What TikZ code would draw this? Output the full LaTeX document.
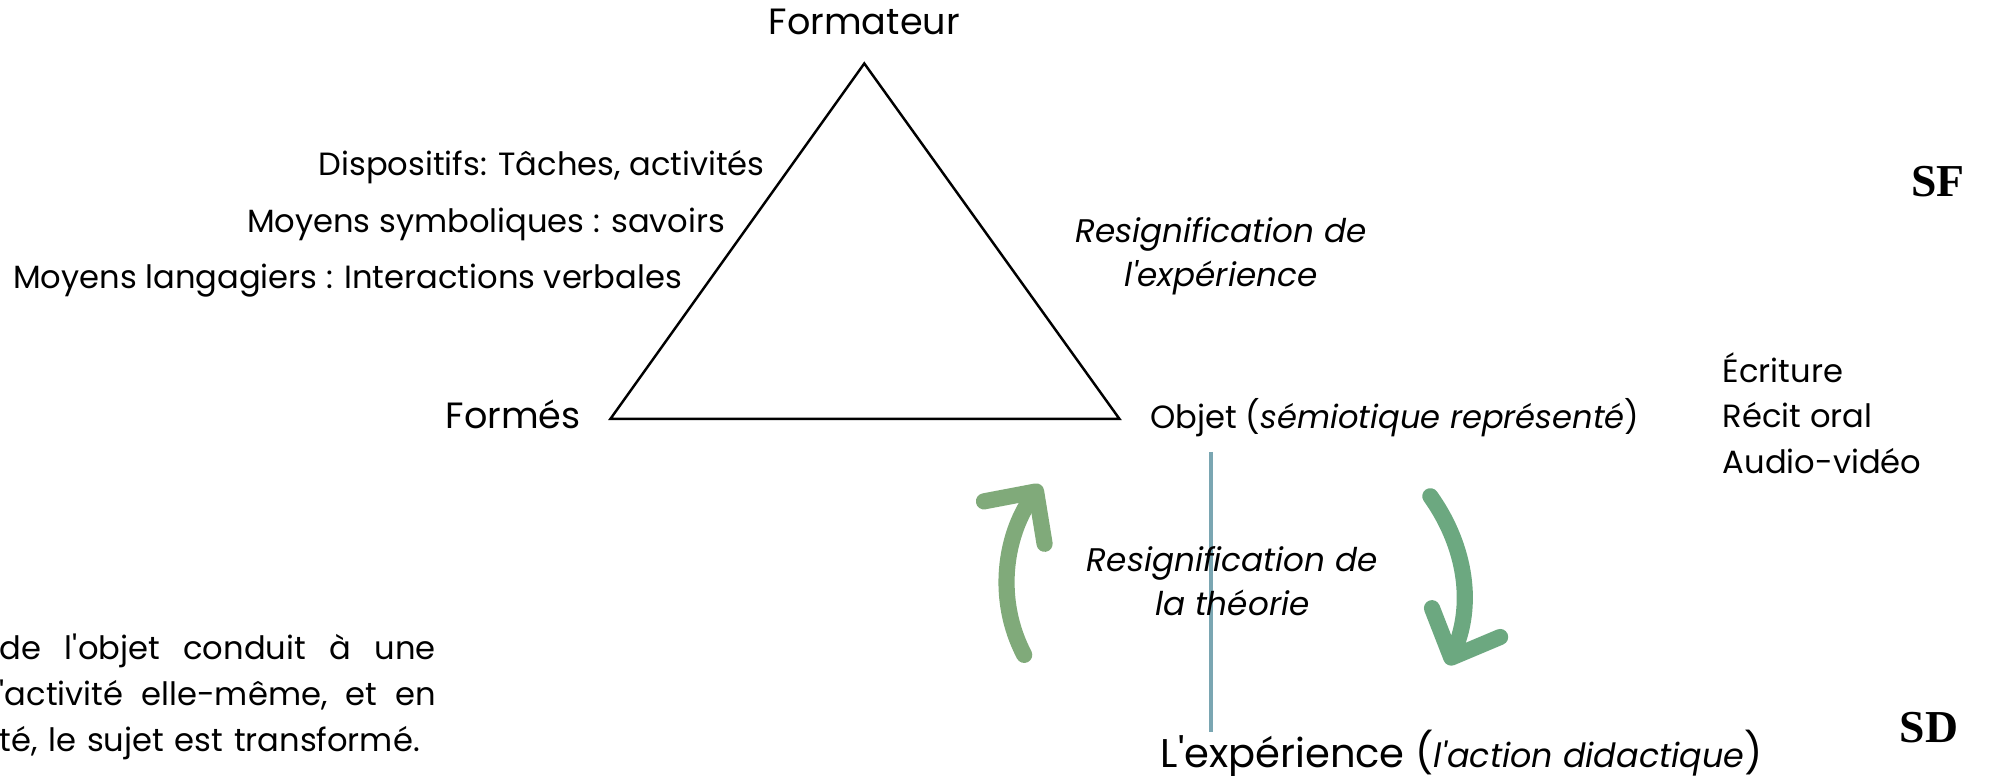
\documentclass[tikz,border=0pt]{standalone}
\usepackage{fontspec}
\setmainfont{Poppins}[Ligatures=TeXOff]
\newfontfamily\cornerfont{Liberation Serif}
\usetikzlibrary{arrows.meta}
\definecolor{loopgreenA}{RGB}{128,170,122}
\definecolor{loopgreenB}{RGB}{108,168,128}
\definecolor{axisblue}{RGB}{122,166,178}
\tikzset{>=stealth}
\tikzset{
  lbl/.style={inner sep=0pt, font=\fontsize{9.15}{13}\selectfont},
  bigl/.style={inner sep=0pt, font=\fontsize{10.4}{13}\selectfont},
  itlbl/.style={lbl, align=center, font=\fontsize{9.3}{12.6}\selectfont\itshape},
  corner/.style={inner sep=0pt, font=\fontsize{13}{15}\selectfont\cornerfont\bfseries},
  loop/.style={line width=4.6pt, line cap=round,
    -{Straight Barb[round, length=3.8mm, width=7.4mm]}}
}

\begin{document}
\begin{tikzpicture}[x=0.1269mm, y=-0.1269mm]
    \useasboundingbox (0,0) rectangle (1568,611);
    \coordinate (top) at (681,50);
    \coordinate (left) at (481,330);
    \coordinate (right) at (882,330);
    \draw[line width=0.7pt, line join=miter] (top) -- (left) -- (right) -- cycle;

    \node[bigl, anchor=base] (formateur) at (681,27) {Formateur};
    \node[bigl, anchor=base east] (formes) at (458,338) {Formés};
    \node[lbl, anchor=base west] (objet) at (906,338) {Objet (\textit{sémiotique représenté})};

    % moyens du formateur
    \node[lbl, anchor=base east] (dispositifs) at (603,138) {Dispositifs: Tâches, activités};
    \node[lbl, anchor=base east] (symboliques) at (572,183) {Moyens symboliques : savoirs};
    \node[lbl, anchor=base east] (langagiers) at (538,227) {Moyens langagiers : Interactions verbales};

    \node[itlbl, anchor=base] (resexp) at (962,226) {Resignification de\\l'expérience};
    \node[lbl, anchor=base west, align=left] (supports) at (1357,373) {Écriture\\Récit oral\\Audio-vidéo};

    \node[corner, anchor=base] (sf) at (1527,155) {SF};
    \node[corner, anchor=base] (sd) at (1520,585) {SD};

    % boucle entre objet et experience
    \coordinate (axtop) at (954.5,356);
    \coordinate (axbot) at (954.5,577);
    \draw[axisblue, line width=1.1pt] (axtop) -- (axbot);
    \node[itlbl, anchor=base] (restheo) at (971,485) {Resignification de\\la théorie};
    \draw[loop, loopgreenA] (807,516) .. controls (784,472) and (792,422) .. (820,382);
    \draw[loop, loopgreenB] (1127,391) .. controls (1152,426) and (1163,472) .. (1141,524);

    \node[lbl, anchor=base west, font=\fontsize{11.4}{13}\selectfont] (experience) at (914,605)
      {L'expérience (\textit{\fontsize{9.5}{13}\selectfont l'action didactique})};

    \node[lbl, anchor=base east, text width=43.6mm, align=left] (note) at (344,520)
      {\hbox to \hsize{de\hfill l'objet\hfill conduit\hfill à\hfill une}
       \hbox to \hsize{'activité\hfill elle-même,\hfill et\hfill en}
       té, le sujet est transformé.};
\end{tikzpicture}
\end{document}
